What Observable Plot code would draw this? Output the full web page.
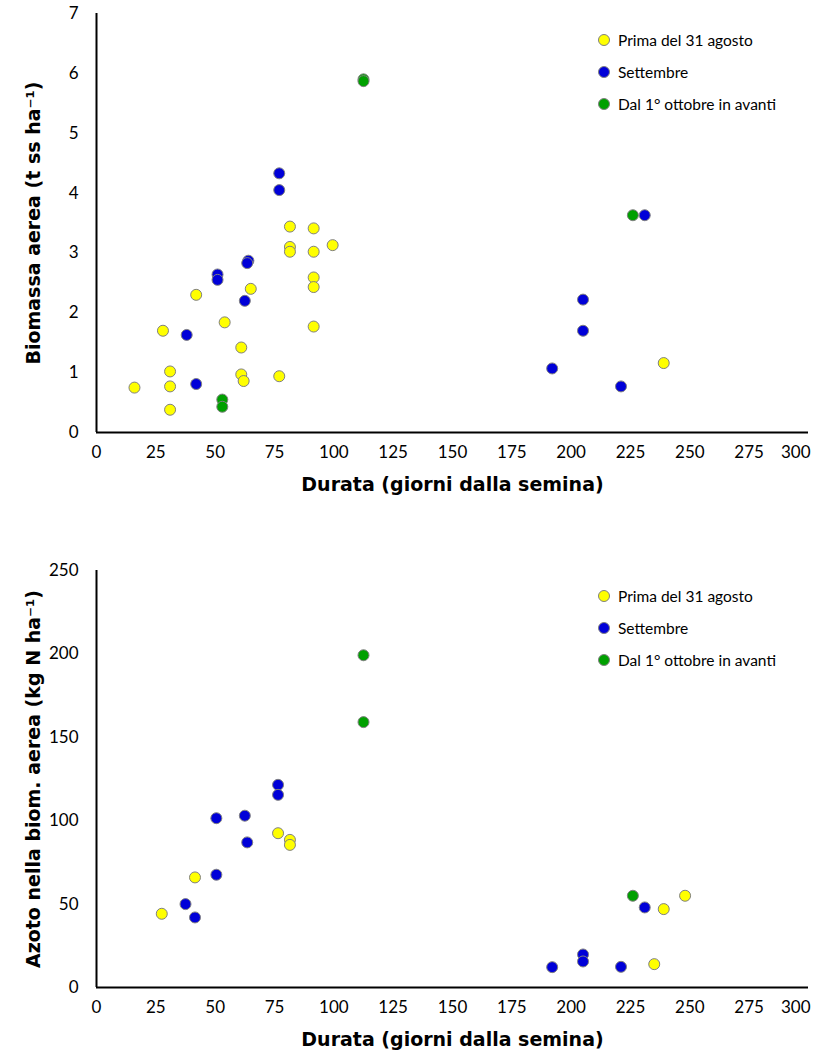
<!DOCTYPE html>
<html>
<head>
<meta charset="utf-8">
<script src="https://cdn.jsdelivr.net/npm/d3@7"></script>
<script src="https://cdn.jsdelivr.net/npm/@observablehq/plot@0.6"></script>
<style>
  body { margin: 0; background: #fff; }
  #wrap { position: relative; width: 829px; height: 1051px; font-family: Lato, "Open Sans", sans-serif; }
  #wrap svg { display: block; font-family: Lato, "Open Sans", sans-serif; }
  [aria-label="y-axis label"] text, [aria-label="x-axis label"] text { font-family: "DejaVu Sans", sans-serif; font-weight: bold; font-size: 19px; fill: #000; }
  [aria-label="y-axis tick label"] text, [aria-label="x-axis tick label"] text { font-size: 17px; fill: #000; }
  .legend { position: absolute; left: 597px; font-size: 15.5px; color: #000; }
  .legend .item { display: flex; align-items: center; height: 32px; }
  .legend svg { margin-right: 7px; }
</style>
</head>
<body>
<div id="wrap"></div>
<script>
// Series names and colours
const categories = ["Prima del 31 agosto", "Settembre", "Dal 1° ottobre in avanti"];
const colors = ["#ffff00", "#0000d8", "#00a000"];
const xTicks = [0, 25, 50, 75, 100, 125, 150, 175, 200, 225, 250, 275];
const xLastTick = [300];
const yTicksBio = [0, 1, 2, 3, 4, 5, 6, 7];
const yTicksN = [0, 50, 100, 150, 200, 250];

// Chart 1: Biomassa aerea (t ss/ha) vs durata (giorni)
const bioPrima = [[16,0.75],[28,1.70],[31,1.02],[31,0.77],[31,0.38],[42,2.30],[54,1.84],[61,1.42],[61,0.97],[62,0.86],[65,2.40],[77,0.94],[81.5,3.44],[81.5,3.10],[81.5,3.02],[91.5,3.41],[91.5,3.02],[91.5,2.59],[91.5,2.43],[91.5,1.77],[99.5,3.13],[239,1.16]];
const bioSettembre = [[38,1.63],[42,0.81],[51,2.64],[51,2.55],[62.5,2.20],[64,2.87],[63.5,2.83],[77,4.33],[77,4.05],[192,1.07],[205,2.22],[205,1.70],[221,0.77],[231,3.63]];
const bioOttobre = [[53,0.55],[53,0.43],[112.5,5.90],[112.5,5.87],[226,3.63]];

// Chart 2: Azoto nella biomassa aerea (kg N/ha) vs durata (giorni)
const nPrima = [[27.5,44.2],[41.5,66],[76.5,92.5],[81.5,88.5],[81.5,85.5],[235,14],[239,47],[248,55]];
const nSettembre = [[37.5,50],[41.5,42],[50.5,67.6],[50.5,101.5],[62.5,103],[63.5,87],[76.5,121.5],[76.5,115.5],[192,12.2],[205,19.8],[205,15.6],[221,12.4],[231,48]];
const nOttobre = [[112.5,199.2],[112.5,159.1],[226,55]];

function toRows(series) {
  return series.flatMap((pts, i) => pts.map(([x, y]) => ({x, y, s: categories[i]})));
}

function chart({rows, height, marginTop, marginBottom, yDomain, yTicks, yLabel}) {
  return Plot.plot({
    width: 829,
    height,
    marginTop,
    marginBottom,
    marginLeft: 96,
    marginRight: 21,
    x: {domain: [0, 300]},
    y: {domain: yDomain},
    color: {domain: categories, range: colors},
    marks: [
      Plot.axisX({ticks: xTicks, tickFormat: d3.format("d"), tickSize: 0, tickPadding: 13, label: "Durata (giorni dalla semina)", labelAnchor: "center", labelArrow: "none", labelOffset: 58}),
      Plot.axisX({ticks: xLastTick, tickFormat: d3.format("d"), tickSize: 0, tickPadding: 13, textAnchor: "end", dx: 2, label: null}),
      Plot.axisY({ticks: yTicks, tickFormat: d3.format("d"), tickSize: 0, tickPadding: 18, label: yLabel, labelAnchor: "center", labelArrow: "none", labelOffset: 70}),
      Plot.ruleX([0], {stroke: "#000", strokeWidth: 2}),
      Plot.ruleY([yDomain[0]], {stroke: "#000", strokeWidth: 2}),
      Plot.dot(rows, {x: "x", y: "y", fill: "s", r: 5.5, stroke: "#808080", strokeWidth: 1})
    ]
  });
}

function legend(top) {
  const div = document.createElement("div");
  div.className = "legend";
  div.style.top = top + "px";
  categories.forEach((c, i) => {
    const item = document.createElement("div");
    item.className = "item";
    item.innerHTML = `<svg width="14" height="14"><circle cx="7" cy="7" r="5.5" fill="${colors[i]}" stroke="#808080" stroke-width="1"></circle></svg><span>${c}</span>`;
    div.appendChild(item);
  });
  return div;
}

const wrap = document.getElementById("wrap");
wrap.appendChild(chart({
  rows: toRows([bioPrima, bioSettembre, bioOttobre]),
  height: 510, marginTop: 13, marginBottom: 78,
  yDomain: [0, 7], yTicks: yTicksBio,
  yLabel: "Biomassa aerea (t ss ha⁻¹)"
}));
wrap.appendChild(chart({
  rows: toRows([nPrima, nSettembre, nOttobre]),
  height: 541, marginTop: 60, marginBottom: 64,
  yDomain: [0, 250], yTicks: yTicksN,
  yLabel: "Azoto nella biom. aerea (kg N ha⁻¹)"
}));
wrap.appendChild(legend(24));
wrap.appendChild(legend(580));
</script>
</body>
</html>
